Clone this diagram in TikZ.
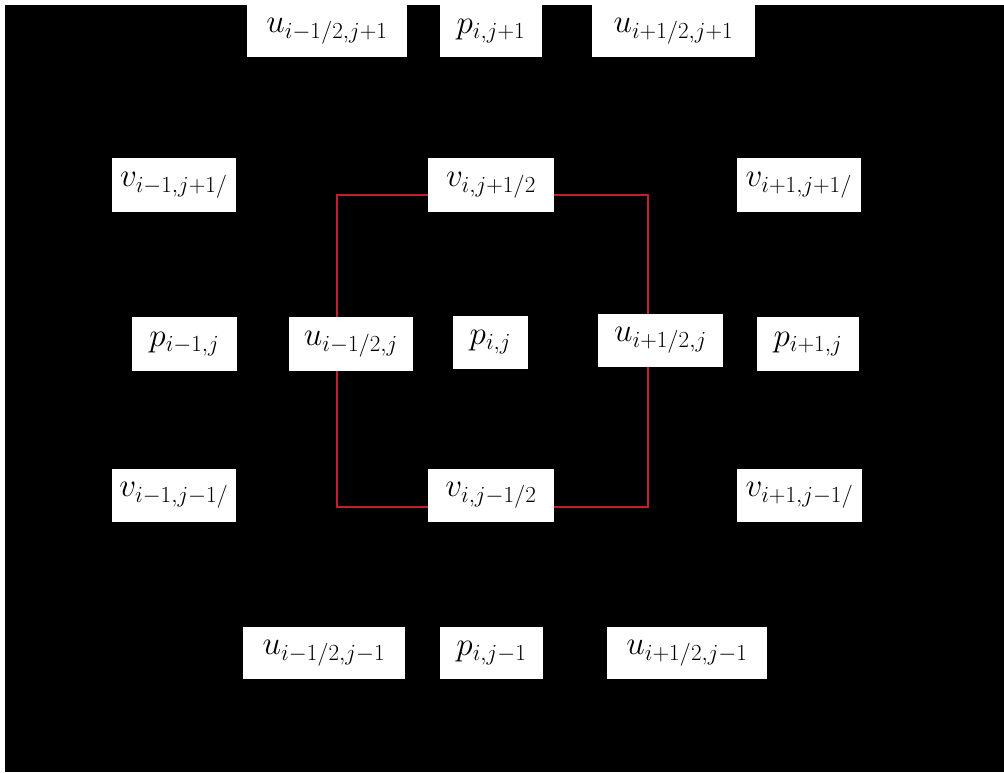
\documentclass[tikz,border=0pt]{standalone}
\definecolor{cellred}{RGB}{195,30,45}
\tikzset{
  cell/.style={draw=none, fill=white, rectangle, inner sep=0pt, minimum height=53*0.75pt, font=\fontsize{25}{29}\selectfont, text=black},
}
\begin{document}
\begin{tikzpicture}[x=0.75pt, y=-0.75pt]
\useasboundingbox (0,0) rectangle (1004,772);
\fill[white] (0,0) rectangle (1004,772);
\fill[black] (5,5) rectangle (1004,772);
% control volume
\coordinate (c1) at (337,195);
\coordinate (c2) at (648,507);
\draw[cellred, line width=1.3pt] (c1) rectangle (c2);
% top row
\node[cell, minimum width=160*0.75pt, minimum height=52*0.75pt] (umjp) at (327,31) {$u_{i-1/2,j+1}$};
\node[cell, minimum width=102*0.75pt, minimum height=52*0.75pt] (pjp) at (491,31) {$p_{i,j+1}$};
\node[cell, minimum width=163*0.75pt, minimum height=52*0.75pt] (upjp) at (673.5,31) {$u_{i+1/2,j+1}$};
% second row
\node[cell, minimum width=124*0.75pt, minimum height=54*0.75pt] (vmjp) at (174,185) {$v_{i-1,j+1/}$};
\node[cell, minimum width=126*0.75pt, minimum height=54*0.75pt] (vjp) at (491,185) {$v_{i,j+1/2}$};
\node[cell, minimum width=124*0.75pt, minimum height=54*0.75pt] (vpjp) at (799,185) {$v_{i+1,j+1/}$};
% middle row
\node[cell, minimum width=105*0.75pt, minimum height=54*0.75pt] (pm) at (184.5,344) {$p_{i-1,j}$};
\node[cell, minimum width=124*0.75pt, minimum height=54*0.75pt] (um) at (351,344) {$u_{i-1/2,j}$};
\node[cell, minimum width=75*0.75pt, minimum height=53*0.75pt] (p) at (490.5,342.5) {$p_{i,j}$};
\node[cell, minimum width=125*0.75pt, minimum height=53*0.75pt] (up) at (660.5,340.5) {$u_{i+1/2,j}$};
\node[cell, minimum width=102*0.75pt, minimum height=54*0.75pt] (pp) at (808,344) {$p_{i+1,j}$};
% fourth row
\node[cell, minimum width=124*0.75pt] (vmjm) at (174,495.5) {$v_{i-1,j-1/}$};
\node[cell, minimum width=126*0.75pt] (vjm) at (491,495.5) {$v_{i,j-1/2}$};
\node[cell, minimum width=125*0.75pt] (vpjm) at (799.5,495.5) {$v_{i+1,j-1/}$};
% bottom row
\node[cell, minimum width=162*0.75pt, minimum height=52*0.75pt] (umjm) at (324,653) {$u_{i-1/2,j-1}$};
\node[cell, minimum width=103*0.75pt, minimum height=52*0.75pt] (pjm) at (491.5,653) {$p_{i,j-1}$};
\node[cell, minimum width=160*0.75pt, minimum height=52*0.75pt] (upjm) at (687,653) {$u_{i+1/2,j-1}$};
\end{tikzpicture}
\end{document}
